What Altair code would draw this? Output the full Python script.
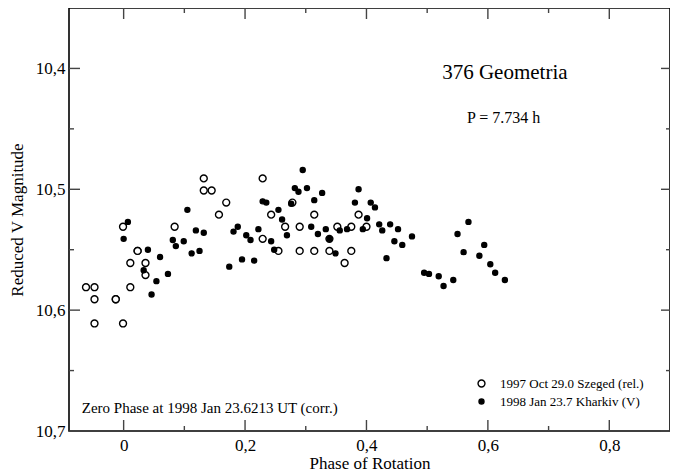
import altair as alt
import pandas as pd

# ---- data ----
szeged_phase = [-0.062, -0.048, -0.048, -0.048, -0.013, -0.013, -0.001, -0.001, 0.011, 0.011,
                0.023, 0.023, 0.036, 0.036, 0.084, 0.132, 0.132, 0.145, 0.169, 0.157,
                0.229, 0.243, 0.229, 0.255, 0.266, 0.278, 0.290, 0.290, 0.314, 0.314,
                0.339, 0.339, 0.352, 0.375, 0.375, 0.364, 0.387, 0.400]
szeged_mag = [10.581, 10.581, 10.591, 10.611, 10.591, 10.591, 10.611, 10.531, 10.561, 10.581,
              10.551, 10.551, 10.561, 10.571, 10.531, 10.491, 10.501, 10.501, 10.511, 10.521,
              10.491, 10.521, 10.541, 10.551, 10.531, 10.511, 10.531, 10.551, 10.521, 10.551,
              10.551, 10.541, 10.531, 10.531, 10.551, 10.561, 10.521, 10.531]

kharkiv_phase = [0.000, 0.007, 0.033, 0.040, 0.046, 0.054, 0.060, 0.073, 0.081, 0.086,
                 0.099, 0.105, 0.112, 0.119, 0.125, 0.132, 0.174, 0.181, 0.188, 0.195,
                 0.202, 0.209, 0.215, 0.222, 0.229, 0.235, 0.243, 0.248, 0.255, 0.261,
                 0.269, 0.276, 0.282, 0.288, 0.295, 0.302, 0.314, 0.327, 0.309, 0.320,
                 0.333, 0.339, 0.349, 0.356, 0.368, 0.387, 0.381, 0.394, 0.401, 0.407,
                 0.414, 0.421, 0.426, 0.433, 0.439, 0.452, 0.446, 0.459, 0.475, 0.495,
                 0.503, 0.519, 0.527, 0.543, 0.550, 0.568, 0.560, 0.594, 0.586, 0.604,
                 0.612, 0.628]
kharkiv_mag = [10.541, 10.527, 10.567, 10.550, 10.587, 10.576, 10.556, 10.570, 10.542, 10.547,
               10.543, 10.517, 10.553, 10.534, 10.551, 10.536, 10.564, 10.535, 10.531, 10.558,
               10.538, 10.542, 10.559, 10.533, 10.510, 10.511, 10.543, 10.550, 10.517, 10.525,
               10.538, 10.512, 10.499, 10.502, 10.484, 10.499, 10.509, 10.503, 10.531, 10.537,
               10.533, 10.541, 10.553, 10.534, 10.533, 10.500, 10.511, 10.533, 10.524, 10.511,
               10.515, 10.529, 10.534, 10.557, 10.529, 10.533, 10.543, 10.546, 10.539, 10.569,
               10.570, 10.572, 10.580, 10.575, 10.537, 10.527, 10.552, 10.546, 10.555, 10.562,
               10.569, 10.575]

series_names = ["1997 Oct 29.0 Szeged (rel.)", "1998 Jan 23.7 Kharkiv (V)"]

x_major = [0, 0.2, 0.4, 0.6, 0.8]
x_minor = [0.1, 0.3, 0.5, 0.7]
y_major = [10.4, 10.5, 10.6, 10.7]
y_minor = [10.45, 10.55, 10.65]

ann_text = ["376 Geometria", "P = 7.734 h"]
ann_x = [0.628, 0.626]
ann_y = [10.404, 10.441]

zero_text = "Zero Phase at 1998 Jan 23.6213 UT (corr.)"
zero_x = -0.069
zero_y = 10.681

pts = pd.DataFrame({
    "phase": szeged_phase + kharkiv_phase,
    "mag": szeged_mag + kharkiv_mag,
    "series": [series_names[0]] * len(szeged_phase) + [series_names[1]] * len(kharkiv_phase),
})

W, H = 601, 423
FONT = "Liberation Serif"
X0, X1 = -0.09, 0.9
Y0, Y1 = 10.35, 10.7
DX = (X1 - X0) / W   # data units per pixel
DY = (Y1 - Y0) / H
TW = 1.4             # tick thickness in pixels

xs = alt.Scale(domain=[X0, X1], nice=False, zero=False)
ys = alt.Scale(domain=[Y0, Y1], nice=False, zero=False, reverse=True)

xaxis = alt.Axis(title="Phase of Rotation", values=x_major, ticks=False, domain=False, grid=False,
                 labelExpr="datum.value == 0 ? '0' : replace(format(datum.value, '.1f'), '.', ',')",
                 labelFont=FONT, labelFontSize=17, labelColor="black", labelPadding=6,
                 titleFont=FONT, titleFontSize=17, titleFontWeight="normal", titleColor="black",
                 titlePadding=2)
yaxis = alt.Axis(title="Reduced V Magnitude", values=y_major, ticks=False, domain=False, grid=False,
                 labelExpr="replace(format(datum.value, '.1f'), '.', ',')",
                 labelFont=FONT, labelFontSize=17, labelColor="black", labelPadding=4,
                 titleFont=FONT, titleFontSize=17, titleFontWeight="normal", titleColor="black",
                 titlePadding=9)

leg = alt.Legend(title=None, orient="none", legendX=406, legendY=369,
                 labelFont=FONT, labelFontSize=13, labelColor="black",
                 labelOffset=12, rowPadding=4, padding=0, symbolStrokeWidth=1.4)

points = alt.Chart(pts).mark_point(filled=True, strokeWidth=1.4, opacity=1).encode(
    x=alt.X("phase:Q", scale=xs, axis=xaxis),
    y=alt.Y("mag:Q", scale=ys, axis=yaxis),
    fill=alt.Fill("series:N", scale=alt.Scale(domain=series_names, range=["white", "black"]),
                  legend=leg),
    stroke=alt.Stroke("series:N", scale=alt.Scale(domain=series_names, range=["black", "black"]),
                      legend=leg),
    size=alt.Size("series:N", scale=alt.Scale(domain=series_names, range=[48, 25]), legend=leg),
)

# inward tick marks as thin rectangles inside the frame
def tick_rows(vals, axis, length, side):
    rows = []
    for v in vals:
        if axis == "x":
            a = Y1 if side == "bottom" else Y0
            b = a - length * DY if side == "bottom" else a + length * DY
            rows.append({"tx": v - TW / 2 * DX, "tx2": v + TW / 2 * DX, "ty": a, "ty2": b})
        else:
            a = X0 if side == "left" else X1
            b = a + length * DX if side == "left" else a - length * DX
            rows.append({"tx": a, "tx2": b, "ty": v - TW / 2 * DY, "ty2": v + TW / 2 * DY})
    return rows

tick_df = pd.DataFrame(
    tick_rows(x_major, "x", 11, "bottom") + tick_rows(x_minor, "x", 5, "bottom")
    + tick_rows(x_major, "x", 11, "top") + tick_rows(x_minor, "x", 5, "top")
    + tick_rows(y_major, "y", 11, "left") + tick_rows(y_minor, "y", 5, "left")
    + tick_rows(y_major, "y", 9, "right") + tick_rows(y_minor, "y", 4, "right")
)

ticks = alt.Chart(tick_df).mark_rect(color="#444444", opacity=1).encode(
    x=alt.X("tx:Q", scale=xs, axis=xaxis), x2="tx2:Q",
    y=alt.Y("ty:Q", scale=ys, axis=yaxis), y2="ty2:Q")

ann = pd.DataFrame({"t": ann_text, "x": ann_x, "y": ann_y})
title_txt = alt.Chart(ann.iloc[[0]]).mark_text(font=FONT, fontSize=21, color="black",
                                               align="center", baseline="middle").encode(
    x=alt.X("x:Q", scale=xs, axis=xaxis), y=alt.Y("y:Q", scale=ys, axis=yaxis), text="t:N")
period_txt = alt.Chart(ann.iloc[[1]]).mark_text(font=FONT, fontSize=16, color="black",
                                                align="center", baseline="middle").encode(
    x=alt.X("x:Q", scale=xs, axis=xaxis), y=alt.Y("y:Q", scale=ys, axis=yaxis), text="t:N")
zero = pd.DataFrame({"t": [zero_text], "x": [zero_x], "y": [zero_y]})
zero_txt = alt.Chart(zero).mark_text(font=FONT, fontSize=15, color="black",
                                     align="left", baseline="middle").encode(
    x=alt.X("x:Q", scale=xs, axis=xaxis), y=alt.Y("y:Q", scale=ys, axis=yaxis), text="t:N")

chart = alt.layer(ticks, title_txt, period_txt, zero_txt, points).properties(
    width=W, height=H, background="white",
    padding={"left": 0, "top": 0, "right": 0, "bottom": 0}
).configure_view(stroke="black", strokeWidth=1.6)

chart.save("out.html", embed_options={"renderer": "svg", "actions": False})
